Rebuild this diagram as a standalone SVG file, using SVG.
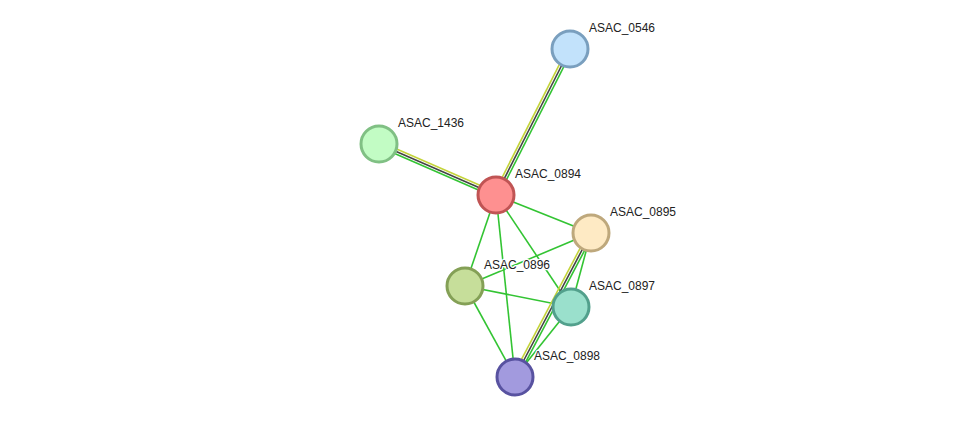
<svg xmlns="http://www.w3.org/2000/svg" width="976" height="423" viewBox="0 0 976 423">
<style>
.e{stroke:#33c433;stroke-width:1.6;fill:none}
.y{stroke:#c4d43a;stroke-width:1.6;fill:none}
.k{stroke:#444444;stroke-width:1.6;fill:none}
.n{stroke-width:3}
.t{font-family:"Liberation Sans",Arial,sans-serif;font-size:12px;fill:#222;stroke:#fff;stroke-width:2.5;paint-order:stroke;stroke-linejoin:round}
</style>
<rect width="976" height="423" fill="#fff"/>
<g id="edges">
<line class="e" x1="496" y1="195" x2="591" y2="233"/>
<line class="e" x1="496" y1="195" x2="465" y2="286"/>
<line class="e" x1="496" y1="195" x2="571" y2="307"/>
<line class="e" x1="496" y1="195" x2="515" y2="377"/>
<line class="e" x1="591" y1="233" x2="465" y2="286"/>
<line class="e" x1="591" y1="233" x2="571" y2="307"/>
<line class="e" x1="465" y1="286" x2="571" y2="307"/>
<line class="e" x1="465" y1="286" x2="515" y2="377"/>
<line class="e" x1="571" y1="307" x2="515" y2="377"/>
<line class="y" x1="493.8" y1="193.9" x2="567.8" y2="47.9"/>
<line class="k" x1="496" y1="195" x2="570" y2="49"/>
<line class="e" x1="498.2" y1="196.1" x2="572.2" y2="50.1"/>
<line class="y" x1="497" y1="192.7" x2="380" y2="141.7"/>
<line class="k" x1="496" y1="195" x2="379" y2="144"/>
<line class="e" x1="495" y1="197.3" x2="378" y2="146.3"/>
<line class="y" x1="588.8" y1="231.8" x2="512.8" y2="375.8"/>
<line class="k" x1="591" y1="233" x2="515" y2="377"/>
<line class="e" x1="593.2" y1="234.2" x2="517.2" y2="378.2"/>
</g>
<g id="ASAC_0546"><circle class="n" cx="570" cy="49" r="18" fill="#c2e2fb" stroke="#7a9fbe"/><text class="t" x="589" y="32">ASAC_0546</text></g>
<g id="ASAC_1436"><circle class="n" cx="379" cy="144" r="18" fill="#c2fcc4" stroke="#80c084"/><text class="t" x="398" y="127">ASAC_1436</text></g>
<g id="ASAC_0894"><circle class="n" cx="496" cy="195" r="18" fill="#fe9090" stroke="#c05454"/><text class="t" x="515" y="178">ASAC_0894</text></g>
<g id="ASAC_0895"><circle class="n" cx="591" cy="233" r="18" fill="#feeac4" stroke="#bea87c"/><text class="t" x="610" y="216">ASAC_0895</text></g>
<g id="ASAC_0896"><circle class="n" cx="465" cy="286" r="18" fill="#c6de9a" stroke="#84a056"/><text class="t" x="484" y="269">ASAC_0896</text></g>
<g id="ASAC_0897"><circle class="n" cx="571" cy="307" r="18" fill="#9ae0cc" stroke="#52a08c"/><text class="t" x="589" y="290">ASAC_0897</text></g>
<g id="ASAC_0898"><circle class="n" cx="515" cy="377" r="18" fill="#a29ade" stroke="#5852a0"/><text class="t" x="534" y="360">ASAC_0898</text></g>
</svg>
